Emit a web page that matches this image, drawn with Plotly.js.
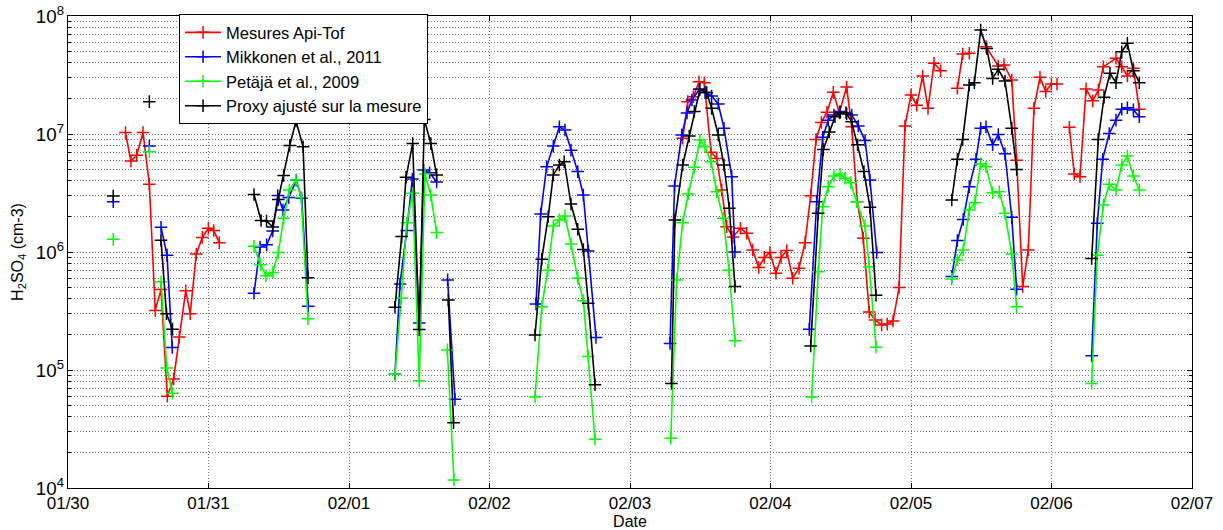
<!DOCTYPE html>
<html>
<head>
<meta charset="utf-8">
<script src="https://cdn.plot.ly/plotly-3.0.1.min.js"></script>
<style>html,body{margin:0;padding:0;background:#fff;}#chart{width:1223px;height:530px;}</style>
</head>
<body>
<div id="chart"></div>
<script>
// Time in days since 01/30 00:00; null separates measurement periods
const seriesNames = ["Mesures Api-Tof", "Mikkonen et al., 2011", "Petäjä et al., 2009", "Proxy ajusté sur la mesure"];
const xTickLabels = ["01/30","01/31","02/01","02/02","02/03","02/04","02/05","02/06","02/07"];

const redT = [0.409,0.448,0.489,0.534,0.579,0.621,0.662,0.707,0.752,0.792,0.838,0.870,0.913,0.956,0.999,1.037,1.077, null,
  4.375,4.411,4.451,4.491,4.529,4.577,4.617,4.653,4.688,4.733,4.786,4.831,4.873,4.916,4.956,4.996,5.039,5.075,5.115,5.158,5.203,5.246,5.286,5.324,5.362,5.402,5.447,5.490,5.542,5.578,5.618,5.660,5.703,5.744,5.791,5.831,5.872,5.915,5.957,6.000,6.041,6.083,6.121,6.164,6.211, null,
  6.330,6.368,6.415, null,
  6.534,6.621,6.662,6.717,6.752,6.795,6.835,6.875,6.918,6.959,6.999,7.039, null,
  7.127,7.162,7.203,7.246,7.293,7.333,7.369,7.459,7.500,7.540,7.583,7.625];
const redV = [1.03e7,5.9e6,6.6e6,1.03e7,3.75e6,3.2e5,4.8e5,6.0e4,8.4e4,1.9e5,4.7e5,3.0e5,9.6e5,1.33e6,1.59e6,1.52e6,1.2e6, null,
  9.2e6,1.88e7,2.07e7,2.77e7,2.72e7,7.0e6,6.2e6,3.35e6,1.64e6,1.34e6,1.59e6,1.44e6,1.04e6,7.4e5,9.0e5,9.9e5,6.6e5,9.0e5,1.03e6,6.0e5,7.3e5,1.2e6,3.0e6,9.0e6,1.25e7,1.53e7,2.26e7,1.51e7,2.5e7,1.15e7,2.67e6,1.31e6,3.1e5,2.65e5,2.41e5,2.45e5,2.6e5,5.0e5,1.17e7,2.14e7,1.75e7,3.1e7,1.65e7,3.97e7,3.44e7, null,
  2.44e7,4.76e7,4.83e7, null,
  5.5e7,3.77e7,3.85e7,2.87e7,6.0e6,5.1e5,1.04e6,1.65e7,3.02e7,2.29e7,2.65e7,2.65e7, null,
  1.14e7,4.58e6,4.35e6,2.41e7,1.91e7,2.36e7,3.72e7,4.38e7,3.72e7,3.1e7,3.6e7,1.62e7];

const blueT = [0.322, null, 0.579, null, 0.662,0.705,0.742, null,
  1.324,1.367,1.414,1.457,1.493,1.530,1.571,1.625,1.663,1.710, null,
  2.327,2.363,2.411,2.451,2.500,2.532,2.574,2.624, null, 2.702,2.754, null,
  3.331,3.364,3.407,3.454,3.497,3.537,3.580,3.628,3.668,3.703,3.758, null,
  4.285,4.317,4.368,4.406,4.441,4.493,4.534,4.581,4.628,4.669,4.724,4.747, null,
  5.276,5.329,5.372,5.411,5.452,5.495,5.537,5.578,5.625,5.673,5.708,5.756, null,
  6.290,6.330,6.372,6.415,6.463,6.496,6.534,6.581,6.621,6.669,6.717,6.752, null,
  7.286,7.326,7.364,7.411,7.459,7.500,7.540,7.583,7.625];
const blueV = [2.67e6, null, 7.9e6, null, 1.62e6,9.4e5,1.55e5, null,
  4.47e5,1.1e6,1.15e6,1.51e6,3.01e6,2.27e6,2.9e6,4.05e6,2.85e6,3.47e5, null,
  9.2e4,5.36e5,1.52e6,4.16e6,2.5e5,4.95e6,4.7e6,3.92e6, null, 5.8e5,5.65e4, null,
  3.62e5,2.1e6,5.28e6,7.9e6,1.15e7,1.08e7,7.3e6,4.8e6,3.04e6,1.02e6,1.89e5, null,
  1.68e5,3.62e6,9.8e6,1.51e7,1.94e7,2.39e7,2.26e7,2.1e7,1.8e7,1.12e7,4.35e6,1.0e6, null,
  2.21e5,2.67e6,9.4e6,1.31e7,1.45e7,1.55e7,1.52e7,1.45e7,1.17e7,8.8e6,4.07e6,9.9e5, null,
  6.2e5,1.25e6,1.89e6,3.57e6,6.1e6,1.12e7,1.15e7,8.1e6,9.9e6,6.8e6,1.97e6,4.83e5, null,
  1.32e5,1.75e6,6.1e6,1.01e7,1.31e7,1.62e7,1.67e7,1.6e7,1.4e7];

const greenT = [0.322, null, 0.579, null, 0.662,0.703,0.744, null,
  1.324,1.370,1.409,1.457,1.497,1.535,1.575,1.623,1.660,1.708, null,
  2.327,2.372,2.411,2.453,2.500,2.541,2.582,2.624, null, 2.700,2.747, null,
  3.324,3.372,3.414,3.454,3.497,3.537,3.580,3.628,3.668,3.703,3.751, null,
  4.290,4.332,4.375,4.415,4.458,4.498,4.534,4.577,4.617,4.664,4.705,4.747, null,
  5.293,5.340,5.372,5.411,5.452,5.495,5.530,5.571,5.613,5.673,5.703,5.751, null,
  6.290,6.330,6.372,6.415,6.455,6.496,6.534,6.581,6.628,6.669,6.717,6.752, null,
  7.286,7.326,7.369,7.411,7.459,7.500,7.540,7.583,7.625];
const greenV = [1.28e6, null, 7.07e6, null, 5.6e5,1.04e5,6.35e4, null,
  1.12e6,7.8e5,6.3e5,6.7e5,9.9e5,1.93e6,3.35e6,4.07e6,2.9e6,2.72e5, null,
  9.2e4,4.07e5,1.77e6,3.14e6,8.1e4,4.58e6,3.04e6,1.46e6, null, 1.48e5,1.17e4, null,
  5.9e4,3.44e5,7.0e5,1.66e6,1.87e6,2.02e6,1.17e6,6.0e5,3.87e5,1.3e5,2.59e4, null,
  2.64e4,5.8e5,1.77e6,3.1e6,5.22e6,8.9e6,7.8e6,5.82e6,3.24e6,1.93e6,7.0e5,1.77e5, null,
  5.9e4,6.8e5,2.42e6,3.57e6,4.41e6,4.58e6,4.22e6,3.87e6,2.67e6,1.66e6,7.5e5,1.56e5, null,
  5.9e5,8.55e5,1.04e6,2.27e6,2.62e6,5.57e6,5.28e6,3.18e6,3.24e6,2.13e6,9.6e5,3.44e5, null,
  7.7e4,9.4e5,2.5e6,3.75e6,3.35e6,5.46e6,6.5e6,4.41e6,3.35e6];

const blackT = [0.322, null, 0.579, null, 0.662,0.701,0.744, null,
  1.324,1.374,1.413,1.457,1.497,1.535,1.578,1.623,1.673,1.708, null,
  2.327,2.375,2.406,2.453,2.500,2.536,2.582,2.624, null, 2.707,2.744, null,
  3.324,3.372,3.418,3.454,3.497,3.532,3.580,3.628,3.668,3.703,3.751, null,
  4.295,4.320,4.375,4.422,4.458,4.498,4.546,4.581,4.628,4.669,4.707,4.747, null,
  5.286,5.340,5.376,5.418,5.459,5.495,5.542,5.578,5.620,5.665,5.708,5.751, null,
  6.290,6.330,6.368,6.415,6.451,6.496,6.539,6.581,6.621,6.669,6.717,6.752, null,
  7.286,7.333,7.374,7.416,7.459,7.500,7.540,7.583,7.625];
const blackV = [2.98e6, null, 1.88e7, null, 1.26e6,3.0e5,2.22e5, null,
  3.07e6,1.85e6,1.83e6,1.63e6,2.79e6,4.45e6,8.0e6,1.29e7,7.8e6,6.05e5, null,
  3.4e5,1.35e6,4.3e6,8.3e6,2.2e5,1.33e7,8.3e6,4.5e6, null, 3.92e5,3.57e4, null,
  1.98e5,8.7e5,1.99e6,4.5e6,5.46e6,5.82e6,2.55e6,1.56e6,1.05e6,3.67e5,7.5e4, null,
  7.7e4,1.87e6,5.46e6,9.6e6,1.55e7,2.39e7,2.24e7,1.65e7,9.8e6,5.46e6,2.35e6,5.1e5, null,
  1.6e5,2.13e6,7.4e6,1.04e7,1.4e7,1.52e7,1.48e7,1.27e7,8.1e6,4.8e6,2.39e6,4.3e5, null,
  2.76e6,6.1e6,9.0e6,2.6e7,2.72e7,7.6e7,5.3e7,2.96e7,3.53e7,2.81e7,1.12e7,5.0e6, null,
  8.8e5,9.0e6,2.05e7,3.27e7,2.72e7,4.98e7,5.87e7,3.44e7,2.72e7];

const T0 = Date.UTC(2013, 0, 30);
function toDate(d) {
  if (d === null) return null;
  return new Date(T0 + d * 86400000).toISOString().slice(0, 19).replace('T', ' ');
}
function dayStr(i) { return new Date(T0 + i * 86400000).toISOString().slice(0, 10); }

const colors = ['#ff0000', '#0000ff', '#00ff00', '#000000'];
const allT = [redT, blueT, greenT, blackT];
const allV = [redV, blueV, greenV, blackV];

const traces = seriesNames.map((name, i) => ({
  type: 'scatter', mode: 'lines+markers', name: name,
  x: allT[i].map(toDate), y: allV[i],
  connectgaps: false,
  line: {color: colors[i], width: 1.6},
  marker: {symbol: 'cross-thin', size: 9, color: colors[i], line: {color: colors[i], width: 1.5}}
}));

const tickvals = xTickLabels.map((_, i) => dayStr(i));
const font = 'Liberation Sans, Arial, Helvetica, sans-serif';
const gridStyle = {gridcolor: '#777', griddash: '1px,2px', gridwidth: 1};

const layout = {
  width: 1223, height: 530,
  margin: {l: 68, r: 31, t: 16, b: 42, pad: 0},
  paper_bgcolor: '#fff', plot_bgcolor: '#fff',
  font: {family: font, size: 16, color: '#000'},
  showlegend: true,
  legend: {x: 0.0988, y: 1.004, xanchor: 'left', yanchor: 'top', bgcolor: '#fff', bordercolor: '#000', borderwidth: 1,
           font: {family: font, size: 16.5, color: '#000'}, tracegroupgap: 0, itemwidth: 36},
  xaxis: Object.assign({
    type: 'date', range: [dayStr(0), dayStr(8)], tickmode: 'array', tickvals: tickvals, ticktext: xTickLabels,
    ticks: 'inside', ticklen: 5, tickcolor: '#000', showline: true, linecolor: '#000', linewidth: 1, mirror: 'ticks',
    showgrid: true, zeroline: false, tickfont: {family: font, size: 17, color: '#000'},
    title: {text: 'Date', font: {family: font, size: 16, color: '#000'}, standoff: 3}
  }, gridStyle),
  yaxis: Object.assign({
    type: 'log', range: [4, 8], dtick: 1, exponentformat: 'power', showexponent: 'all',
    ticks: 'inside', ticklen: 5, tickcolor: '#000', showline: true, linecolor: '#000', linewidth: 1, mirror: 'ticks',
    showgrid: true, zeroline: false, tickfont: {family: font, size: 15, color: '#000'},
    minor: {dtick: 'D1', ticks: 'inside', ticklen: 3, tickcolor: '#000', showgrid: true, gridcolor: '#777', griddash: '1px,2px', gridwidth: 1},
    title: {text: 'H<sub>2</sub>SO<sub>4</sub> (cm-3)', font: {family: font, size: 16, color: '#000'}, standoff: 8}
  }, gridStyle)
};

Plotly.newPlot('chart', traces, layout, {staticPlot: true, displayModeBar: false});
</script>
</body>
</html>
